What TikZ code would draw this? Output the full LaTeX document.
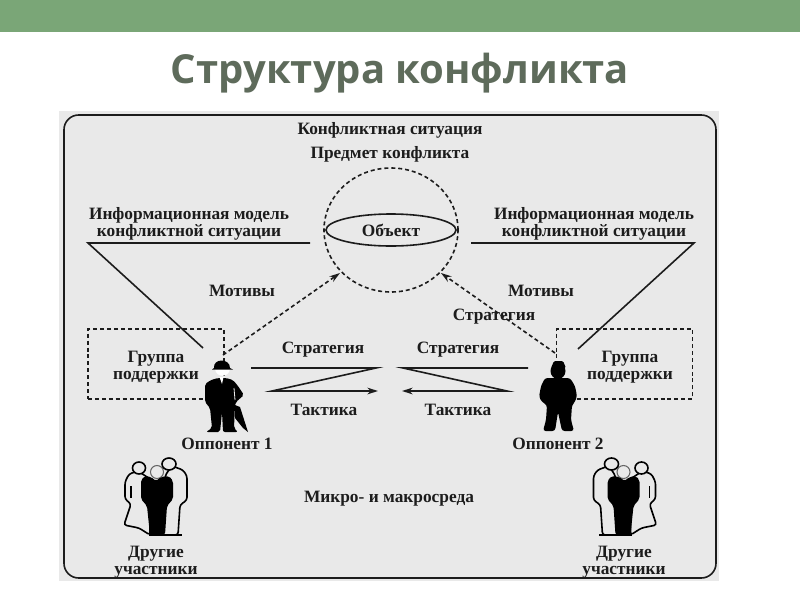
\documentclass[tikz,border=0pt]{standalone}
\usepackage{fontspec}
\setmainfont{Liberation Serif}
\newfontfamily\titlefont{Open Sans}
\usetikzlibrary{arrows.meta,shapes.geometric}
\definecolor{barcol}{HTML}{7AA677}
\definecolor{titlecol}{HTML}{5E6B5B}
\definecolor{panelcol}{HTML}{E9E9E9}
\definecolor{inkcol}{HTML}{1C1C1C}
\tikzset{
	lbl/.style = {font=\bfseries\fontsize{13}{13}\selectfont, text=inkcol, inner sep=0pt, align=center, yshift=-1pt},
	solidline/.style = {draw=inkcol, line width=1.2pt},
	dashline/.style = {draw=inkcol, line width=1.2pt, dash pattern=on 3pt off 2.2pt},
	supportbox/.style = {dashline, rectangle, minimum width=102pt, minimum height=52.5pt, inner sep=0pt},
	tip/.style = {-{Stealth[length=8pt,width=5pt]}},
	crowd/.pic = {
		\filldraw[fill=panelcol, draw=black, line width=1.2pt, rounded corners=2pt]
			(-18,-53) -- (-27,-50) -- (-31,-42) -- (-31,-25) -- (-25,-20) -- (-32,1) -- (-17,4) -- (-6,11) -- (-6,-45) -- cycle;
		\draw[black, line width=1.4pt] (-25,-38) -- (-25,-26);
		\filldraw[fill=panelcol, draw=black, line width=1.2pt, rounded corners=2pt]
			(16,-58) -- (27,-54) -- (31,-48) -- (31,-24) -- (24,-19) -- (22,11) -- (-6,11) -- (10,-50) -- cycle;
		\filldraw[fill=panelcol, draw=black!60, line width=.8pt] (1,-52) circle (6.5 and 6.5);
		\fill[black, rounded corners=1.5pt]
			(-15,-44) -- (-11,-48) -- (-5,-47) -- (0,-43) -- (5,-47) -- (13,-48) -- (17,-43) -- (17,-25) -- (11,-18) -- (9,11)
			-- (-6,11) -- (-9,-18) -- (-15,-25) -- cycle;
		\draw[black, line width=1.2pt] (-7,11) -- (26,11);
		\filldraw[fill=panelcol, draw=black, line width=1.2pt] (-17,-56) circle (6.5 and 6);
		\filldraw[fill=panelcol, draw=black, line width=1.2pt] (13,-60) circle (7 and 6);
	}
}
\begin{document}
\begin{tikzpicture}[x=.75pt, y=-.75pt]
	\useasboundingbox (0,0) rectangle (800,600);
	\fill[barcol] (0,0) rectangle (800,32);
	\node (title) at (400,73) [font=\titlefont\bfseries\fontsize{30}{30}\selectfont, text=titlecol, inner sep=0pt] {Структура конфликта};
	\fill[panelcol] (59,111) rectangle (719,581);
	\draw[solidline, rounded corners=11pt] (64,115) rectangle (716,578);

	\node (situation) at (390,129) [lbl] {Конфликтная ситуация};
	\node (subject) at (390,153) [lbl] {Предмет конфликта};
	\node (subjcircle) at (391,230) [ellipse, dashline, minimum width=100.5pt, minimum height=93pt, inner sep=0pt] {};
	\node (objnode) at (391,230) [ellipse, solidline, lbl, yshift=1pt, minimum width=97.5pt, minimum height=24pt] {Объект};

	\node (infoleft) at (189,222.5) [lbl] {Информационная модель\\конфликтной ситуации};
	\node (inforight) at (594,222.5) [lbl] {Информационная модель\\конфликтной ситуации};
	\node (motiveleft) at (242,290) [lbl] {Мотивы};
	\node (motiveright) at (541,290) [lbl] {Мотивы};
	\node (stratupper) at (494,315) [lbl] {Стратегия};
	\node (stratleft) at (323,348) [lbl] {Стратегия};
	\node (stratright) at (458,348) [lbl] {Стратегия};
	\node (tactleft) at (324,409) [lbl] {Тактика};
	\node (tactright) at (458,409) [lbl] {Тактика};

	\node (boxleft) at (156,364) [supportbox] {};
	\node (boxright) at (624.5,364) [supportbox] {};
	\node (supportleft) at (156,365.5) [lbl] {Группа\\поддержки};
	\node (supportright) at (630,365.5) [lbl] {Группа\\поддержки};

	\coordinate (a1) at (310,243);
	\coordinate (a2) at (88,243);
	\coordinate (a3) at (203,348);
	\coordinate (b1) at (471,243);
	\coordinate (b2) at (694,243);
	\coordinate (b3) at (578,349);
	\draw[solidline] (a1) -- (a2) -- (a3);
	\draw[solidline] (b1) -- (b2) -- (b3);

	\coordinate (opp1top) at (223,355);
	\coordinate (opp2top) at (555,353);
	\coordinate (hit1) at (340,273);
	\coordinate (hit2) at (441,273);
	\draw[dashline, tip] (opp1top) -- (hit1);
	\draw[dashline, tip] (opp2top) -- (hit2);

	\coordinate (s1) at (251,368);
	\coordinate (s2) at (376,368);
	\coordinate (s3) at (272,391);
	\coordinate (s4) at (378,391);
	\draw[solidline, tip] (s1) -- (s2) -- (s3) -- (s4);
	\coordinate (t1) at (528,368);
	\coordinate (t2) at (403,368);
	\coordinate (t3) at (507,391);
	\coordinate (t4) at (402,391);
	\draw[solidline, tip] (t1) -- (t2) -- (t3) -- (t4);

	\fill[black] (235,405) -- (240,407) -- (248,432) -- (243,428) -- (235,418) -- cycle;
	\fill[black, rounded corners=1.5pt]
		(211,380) -- (218,378) -- (226,378) -- (233,380) -- (238,386) -- (244,395) -- (236,402) -- (235,405) -- (234,428) -- (238,432)
		-- (223,432) -- (222,412) -- (220,432) -- (206,432) -- (212,428) -- (210,408) -- (205,402) -- (205,384) -- cycle;
	\draw[panelcol, line width=.6pt] (234,388) -- (235,400);
	\fill[white] (219.5,377) -- (223.5,377) -- (222,384) -- cycle;
	\fill[white] (215,369) -- (230,369) .. controls (229,378) and (216,378) .. (215,369);
	\fill[black] (214,368) .. controls (213,358) and (230,358) .. (230,368) -- (233,369.5) -- (212,369.5) -- cycle;

	\fill[black, rounded corners=2pt]
		(545,378) -- (570,378) -- (575,386) -- (577,396) -- (575,402) -- (572,405) -- (571,420) -- (574,431)
		-- (562,431) -- (558,412) -- (555,431) -- (543,431) -- (546,420) -- (547,405) -- (542,402) -- (539,397) -- (541,386) -- cycle;
	\fill[black] (558,371) circle (7.5 and 8);
	\fill[black, rounded corners=1pt] (554,361) -- (563,361) -- (566,368) -- (551,368) -- cycle;

	\node (opponent1) at (227,443) [lbl] {Оппонент 1};
	\node (opponent2) at (558,443) [lbl] {Оппонент 2};
	\node (environment) at (389,497) [lbl] {Микро- и макросреда};

	\pic (crowdleft) at (156,524) {crowd};
	\pic[xscale=-1] (crowdright) at (624.5,524) {crowd};
	\node (othersleft) at (156,561) [lbl] {Другие\\участники};
	\node (othersright) at (624,561) [lbl] {Другие\\участники};
\end{tikzpicture}
\end{document}
